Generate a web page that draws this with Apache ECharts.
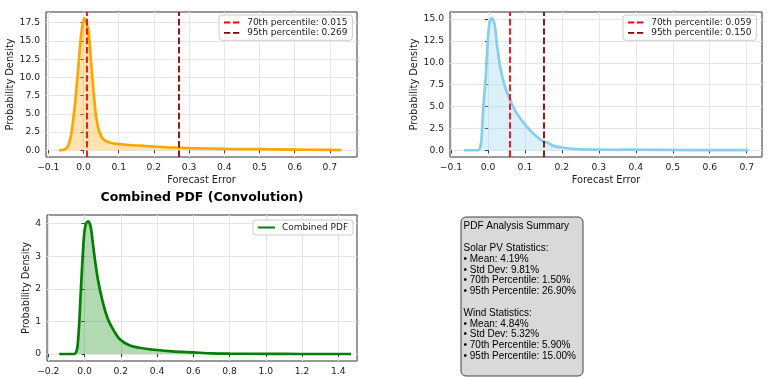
<!DOCTYPE html>
<html><head><meta charset="utf-8">
<script src="https://cdn.jsdelivr.net/npm/echarts@6/dist/echarts.min.js"></script>
<style>html,body{margin:0;padding:0;background:#fff}#c{width:768px;height:378px}</style>
</head><body><div id="c"></div>
<script>
// ---- data ----
const solarX = [-0.069,-0.055,-0.045,-0.036,-0.026,-0.017,-0.007,0.002,0.0136,0.021,0.029,0.036,0.045,0.059,0.083,0.13,0.178,0.2,0.25,0.3,0.4,0.5,0.6,0.7,0.733];
const solarY = [0,0.1,0.5,1.9,5.5,10.1,15.6,18.1,16.5,12.4,7.8,4.6,2.55,1.4,0.96,0.73,0.59,0.52,0.38,0.3,0.2,0.15,0.1,0.05,0.03];
const windX = [-0.065,-0.026,-0.02,-0.017,-0.013,-0.006,-0.001,0.004,0.010,0.015,0.019,0.024,0.033,0.046,0.06,0.078,0.105,0.132,0.150,0.162,0.177,0.196,0.22,0.25,0.3,0.35,0.4,0.45,0.5,0.6,0.705];
const windY = [0,0,0.5,1.55,4.6,8.4,12.2,14.5,15.1,14.8,14.1,12.2,9.55,7.27,5.75,4.23,2.7,1.55,1.0,0.85,0.5,0.35,0.2,0.11,0.07,0.05,0.08,0.04,0.03,0.02,0.01];
const combX = [-0.14,-0.057,-0.045,-0.038,-0.029,-0.02,-0.01,-0.001,0.008,0.0207,0.03,0.036,0.054,0.073,0.1,0.128,0.155,0.192,0.247,0.34,0.486,0.6,0.7,0.8,1.0,1.2,1.47];
const combY = [0,0,0.08,0.27,0.98,2.0,3.03,3.74,4.0,4.07,3.98,3.84,3.03,2.31,1.6,1.08,0.78,0.47,0.27,0.16,0.08,0.05,0.02,0.01,0.005,0,0];
const pctLevels = ['70th','95th'];
const solarPct = [0.015, 0.269];
const windPct = [0.059, 0.150];
const xTicksTop = [-0.1,0,0.1,0.2,0.3,0.4,0.5,0.6,0.7];
const yTicksSolar = [0,2.5,5,7.5,10,12.5,15,17.5];
const yTicksWind = [0,2.5,5,7.5,10,12.5,15];
const xTicksComb = [-0.2,0,0.2,0.4,0.6,0.8,1.0,1.2,1.4];
const yTicksComb = [0,1,2,3,4];
const solarStats = [4.19, 9.81, 1.50, 26.90];
const windStats = [4.84, 5.32, 5.90, 15.00];
const statNames = ['Mean','Std Dev','70th Percentile','95th Percentile'];

// ---- chart ----
const FF = 'DejaVu Sans';
const fmt1 = v => (v < 0 ? '\u2212' : '') + Math.abs(v).toFixed(1);
const fmt0 = v => String(Math.round(v));
const zip = (a, b) => a.map((x, i) => [x, b[i]]);
const pctName = (i, v) => pctLevels[i] + ' percentile: ' + v.toFixed(3);
const pctColors = ['#ff0000', '#8b0000'];
const dashIcon = 'path://M0,0h7v2h-7z M10,0h7v2h-7z';

function mkX(gi, min, max, ticks, fmt, name) {
  return {type:'value', gridIndex:gi, min, max,
    axisLine:{show:false},
    axisTick:{show:true, length:3, customValues:ticks, lineStyle:{color:'#333'}},
    axisLabel:{customValues:ticks, formatter:fmt, margin:6, fontSize:9.2, color:'#1a1a1a', fontFamily:FF},
    splitLine:{show:true, lineStyle:{color:'#e6e6e6', width:1}},
    name: name || '', nameLocation:'middle', nameGap:18,
    nameTextStyle:{fontSize:9.8, color:'#1a1a1a', fontFamily:FF}};
}
function mkY(gi, min, max, ticks, fmt, gap) {
  return {type:'value', gridIndex:gi, min, max,
    axisLine:{show:false},
    axisTick:{show:true, length:3, customValues:ticks, lineStyle:{color:'#333'}},
    axisLabel:{customValues:ticks, formatter:fmt, margin:6, fontSize:9.2, color:'#1a1a1a', fontFamily:FF},
    splitLine:{show:true, lineStyle:{color:'#e6e6e6', width:1}},
    name:'Probability Density', nameLocation:'middle', nameGap:gap,
    nameTextStyle:{fontSize:9.8, color:'#1a1a1a', fontFamily:FF}};
}
function pctSeries(gi, i, v) {
  return {type:'line', name:pctName(i, v), xAxisIndex:gi, yAxisIndex:gi, data:[], symbol:'none',
    itemStyle:{color:pctColors[i]}, z:5,
    markLine:{silent:true, symbol:['none','none'], label:{show:false}, animation:false,
      lineStyle:{color:pctColors[i], type:[6.6,2.8], width:1.8},
      data:[{xAxis:v}]}};
}
function curve(gi, xs, ys, color, name) {
  return {type:'line', name:name, xAxisIndex:gi, yAxisIndex:gi, data:zip(xs, ys), smooth:0.3, symbol:'none',
    itemStyle:{color}, lineStyle:{color, width:2.7}, areaStyle:{color, opacity:0.3}, z:3};
}
function legendFor(names, colors, left, top, icon) {
  return {orient:'vertical', left, top, padding:[3,5,3,5], itemGap:1.3,
    itemWidth:17, itemHeight:icon === 'solid' ? 2.7 : 1.8,
    backgroundColor:'rgba(255,255,255,0.8)', borderColor:'#cccccc', borderWidth:1, borderRadius:3,
    textStyle:{fontSize:9, color:'#1a1a1a', fontFamily:FF, padding:[0,0,0,2]},
    selectedMode:false,
    data:names.map((n, i) => ({name:n, icon: icon === 'solid' ? 'path://M0,0h17v2h-17z' : dashIcon, itemStyle:{color:colors[i]}}))};
}

const summary = ['PDF Analysis Summary', '', 'Solar PV Statistics:']
  .concat(statNames.map((n, i) => '\u2022 ' + n + ': ' + solarStats[i].toFixed(2) + '%'))
  .concat(['', 'Wind Statistics:'])
  .concat(statNames.map((n, i) => '\u2022 ' + n + ': ' + windStats[i].toFixed(2) + '%'));

const option = {
  animation:false,
  backgroundColor:'#ffffff',
  title:{text:'Combined PDF (Convolution)', left:202, top:191, textAlign:'center', padding:0,
    textStyle:{fontSize:12.5, fontWeight:'bold', color:'#000', fontFamily:FF}},
  grid:[
    {left:46, top:12, width:311, height:145, show:true, borderColor:'#333', borderWidth:1, backgroundColor:'transparent'},
    {left:450, top:12, width:312, height:145, show:true, borderColor:'#333', borderWidth:1, backgroundColor:'transparent'},
    {left:47, top:215, width:310, height:146, show:true, borderColor:'#333', borderWidth:1, backgroundColor:'transparent'}
  ],
  xAxis:[
    mkX(0, -0.1065, 0.777, xTicksTop, fmt1, 'Forecast Error'),
    mkX(1, -0.1027, 0.7414, xTicksTop, fmt1, 'Forecast Error'),
    mkX(2, -0.2072, 1.503, xTicksComb, fmt1, '')
  ],
  yAxis:[
    mkY(0, -0.92, 18.97, yTicksSolar, fmt1, 29),
    mkY(1, -0.77, 15.8, yTicksWind, fmt1, 29),
    mkY(2, -0.215, 4.265, yTicksComb, fmt0, 16)
  ],
  legend:[
    legendFor(solarPct.map((v, i) => pctName(i, v)), pctColors, 219, 15),
    legendFor(windPct.map((v, i) => pctName(i, v)), pctColors, 623, 15),
    legendFor(['Combined PDF'], ['#008000'], 253, 220, 'solid')
  ],
  series:[
    curve(0, solarX, solarY, '#FFA500', 'Solar PDF'),
    pctSeries(0, 0, solarPct[0]), pctSeries(0, 1, solarPct[1]),
    curve(1, windX, windY, '#87CEEB', 'Wind PDF'),
    pctSeries(1, 0, windPct[0]), pctSeries(1, 1, windPct[1]),
    curve(2, combX, combY, '#008000', 'Combined PDF')
  ],
  graphic:[
    {type:'rect', shape:{x:461, y:217, width:122, height:159, r:5}, style:{fill:'#d9d9d9', stroke:'#444', lineWidth:1}, z:10},
    {type:'text', x:463.5, y:221.3, z:11, style:{text:summary.join('\n'), fontSize:10, fontFamily:'Liberation Sans', fill:'#000', lineHeight:10.8}}
  ]
};
const chart = echarts.init(document.getElementById('c'), null, {renderer:'canvas'});
chart.setOption(option);
</script></body></html>
